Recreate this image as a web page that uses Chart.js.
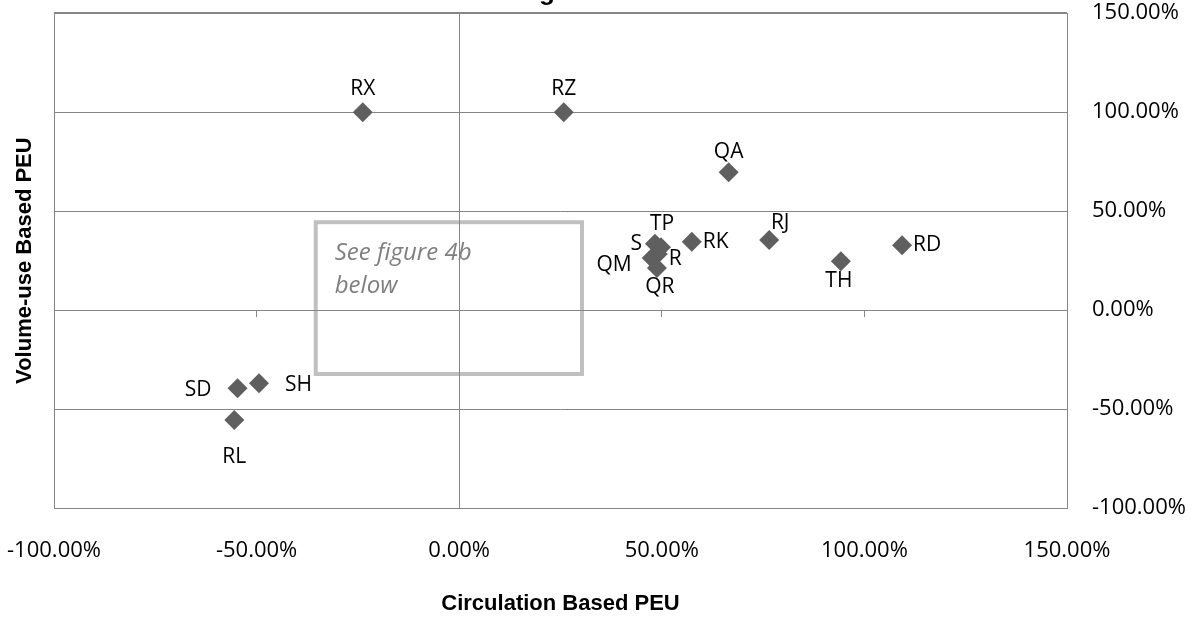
<!DOCTYPE html>
<html>
<head>
<meta charset="utf-8">
<script src="https://cdn.jsdelivr.net/npm/chart.js@4.4.1/dist/chart.umd.min.js"></script>
<style>
  html, body { margin: 0; padding: 0; background: #ffffff; }
  #wrap { width: 1201px; height: 618px; position: relative; }
  canvas { display: block; }
</style>
</head>
<body>
<div id="wrap"><canvas id="c" width="1201" height="618"></canvas></div>
<script>
// ---- Data ----
const names = ['RX', 'RZ', 'QA', 'TP', 'S', 'R', 'QM', 'QR', 'RK', 'RJ', 'TH', 'RD', 'SD', 'SH', 'RL'];
const circulationPEU = [-23.8, 25.8, 66.5, 49.8, 48.3, 49.0, 47.5, 48.8, 57.4, 76.5, 94.2, 109.3, -54.7, -49.4, -55.5];
const volumeUsePEU   = [100.0, 100.0, 69.7, 31.8, 33.5, 28.3, 26.3, 21.2, 34.5, 35.4, 24.7, 32.8, -39.5, -37.0, -55.6];
const xTickValues = [-100, -50, 0, 50, 100, 150];
const yTickValues = [-100, -50, 0, 50, 100, 150];
const xAxisTitle = 'Circulation Based PEU';
const yAxisTitle = 'Volume-use Based PEU';
const noteLines = ['See figure 4b', 'below'];
// note box corners in data units (x: circulation %, y: volume-use %)
const noteBoxX = [-35.4, 30.3];
const noteBoxY = [-32.3, 44.4];

const fmt = v => Number(v).toFixed(2) + '%';

// label placement relative to each point (pixels): [dx, dy, align]
const labelPlacement = {
  RX: [0, -23, 'center'], RZ: [0, -23, 'center'], QA: [0, -20, 'center'],
  TP: [1, -23, 'center'], S: [-13, 0, 'right'], R: [11, 5, 'left'],
  QM: [-20, 7, 'right'], QR: [3, 19, 'center'], RK: [11, 0, 'left'],
  RJ: [11, -17, 'center'], TH: [-2, 20, 'center'], RD: [11, 0, 'left'],
  SD: [-26, 2, 'right'], SH: [26, 2, 'left'], RL: [0, 37, 'center']
};

const GRID = '#868686';
const CLEAR = 'rgba(0,0,0,0)';
const points = circulationPEU.map((x, i) => ({ x: x, y: volumeUsePEU[i] }));

const backgroundAndNote = {
  id: 'backgroundAndNote',
  beforeDraw(chart) {
    const ctx = chart.ctx;
    ctx.save();
    ctx.fillStyle = '#ffffff';
    ctx.fillRect(0, 0, chart.width, chart.height);
    const xs = chart.scales.x, ys = chart.scales.y;
    const l = xs.getPixelForValue(noteBoxX[0]), r = xs.getPixelForValue(noteBoxX[1]);
    const t = ys.getPixelForValue(noteBoxY[1]), b = ys.getPixelForValue(noteBoxY[0]);
    ctx.strokeStyle = '#c0c0c0';
    ctx.lineWidth = 4;
    ctx.strokeRect(l, t, r - l, b - t);
    ctx.fillStyle = '#7f7f7f';
    ctx.font = 'italic 24px "Open Sans"';
    ctx.textAlign = 'left';
    ctx.textBaseline = 'alphabetic';
    ctx.fillText(noteLines[0], l + 19, t + 38);
    ctx.fillText(noteLines[1], l + 19, t + 71);
    // descender of the clipped chart title above the canvas
    ctx.fillStyle = '#000000';
    ctx.font = 'bold 26px "Liberation Sans"';
    ctx.textAlign = 'center';
    ctx.fillText('g', 547, 0);
    ctx.restore();
  }
};

const pointLabels = {
  id: 'pointLabels',
  afterDatasetsDraw(chart) {
    const ctx = chart.ctx;
    const meta = chart.getDatasetMeta(0);
    ctx.save();
    ctx.fillStyle = '#000000';
    ctx.font = '21px "Open Sans"';
    ctx.textBaseline = 'middle';
    meta.data.forEach((el, i) => {
      const p = labelPlacement[names[i]] || [0, -22, 'center'];
      ctx.textAlign = p[2];
      ctx.fillText(names[i], el.x + p[0], el.y + p[1]);
    });
    ctx.restore();
  }
};

new Chart(document.getElementById('c'), {
  type: 'scatter',
  data: {
    datasets: [{
      data: points,
      pointStyle: 'rectRot',
      pointRadius: 10,
      pointHoverRadius: 10,
      backgroundColor: '#5f5f5f',
      borderColor: '#5f5f5f',
      borderWidth: 0
    }]
  },
  options: {
    responsive: false,
    animation: false,
    events: [],
    layout: { padding: { top: 13, right: 0, bottom: 0, left: 0 } },
    plugins: { legend: { display: false }, tooltip: { enabled: false }, title: { display: false } },
    scales: {
      x: {
        type: 'linear', position: 'bottom', min: -100, max: 150,
        afterBuildTicks: s => { s.ticks = xTickValues.map(v => ({ value: v })); },
        afterFit: s => { s.height = 110; },
        ticks: {
          callback: v => fmt(v), color: '#000000', padding: 0,
          font: { family: '"Open Sans"', size: 22 }, maxRotation: 0, autoSkip: false
        },
        grid: {
          drawTicks: true, tickLength: 30, tickColor: CLEAR,
          color: c => (c.tick && (c.tick.value === 0 || c.tick.value === -100 || c.tick.value === 150)) ? GRID : CLEAR,
          lineWidth: 1
        },
        border: { display: true, color: GRID, width: 1 },
        title: {
          display: true, text: xAxisTitle, color: '#000000',
          font: { family: '"Liberation Sans"', size: 22, weight: 'bold' },
          padding: { top: 0, bottom: 1 }
        }
      },
      xZero: {
        type: 'linear', position: { y: 0 }, min: -100, max: 150,
        afterBuildTicks: s => { s.ticks = xTickValues.map(v => ({ value: v })); },
        ticks: { display: false, padding: 0 },
        grid: { drawOnChartArea: false, drawTicks: true, tickLength: 6, color: GRID, lineWidth: 1 },
        border: { display: true, color: GRID, width: 1 }
      },
      y: {
        type: 'linear', position: 'right', min: -100, max: 150,
        afterBuildTicks: s => { s.ticks = yTickValues.map(v => ({ value: v })); },
        afterFit: s => { s.width = 134; },
        ticks: {
          callback: v => fmt(v), color: '#000000', padding: 0,
          font: { family: '"Open Sans"', size: 22 }
        },
        grid: {
          drawTicks: true, tickLength: 25, tickColor: CLEAR, color: GRID,
          lineWidth: c => (c.tick && c.tick.value === 150) ? 2 : 1
        },
        border: { display: true, color: GRID, width: 1 }
      },
      yTitle: {
        type: 'linear', position: 'left', min: -100, max: 150,
        afterFit: s => { s.width = 54; },
        ticks: { display: false, padding: 0 },
        grid: { display: false },
        border: { display: false },
        title: {
          display: true, text: yAxisTitle, color: '#000000',
          font: { family: '"Liberation Sans"', size: 22, weight: 'bold' },
          padding: { top: 12, bottom: 0 }
        }
      }
    }
  },
  plugins: [backgroundAndNote, pointLabels]
});
</script>
</body>
</html>
